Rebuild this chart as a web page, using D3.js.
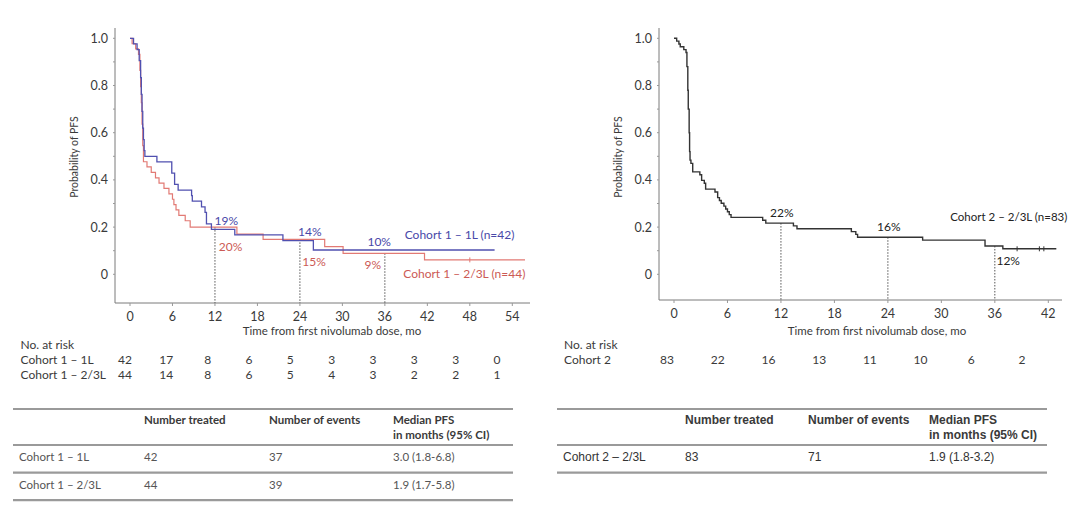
<!DOCTYPE html>
<html>
<head>
<meta charset="utf-8">
<script src="https://cdn.jsdelivr.net/npm/d3@7"></script>
<style>
  body { margin: 0; background: #fff; }
  svg text { font-family: Lato, "Open Sans", sans-serif; fill: #3a3a3a; }
  .arial text, text.arial { font-family: "Liberation Sans", Arial, sans-serif; }
</style>
</head>
<body>
<svg id="chart" width="1092" height="520"></svg>
<script>
// ---- data ----
// step curves: [month, survival from that month on]
let blueSteps = [[0,1],[0.5,0.976],[1.0,0.952],[1.3,0.905],[1.5,0.833],[1.6,0.762],[1.7,0.69],[1.8,0.619],
  [1.9,0.571],[2.0,0.524],[2.1,0.5],[3.8,0.476],[5.9,0.429],[6.3,0.381],[6.8,0.357],[8.7,0.333],[8.8,0.31],
  [10.1,0.286],[10.6,0.262],[10.8,0.214],[11.5,0.19],[14.8,0.167],[21.6,0.143],[25.9,0.103]]
let blueEnd = 51.5
let redSteps = [[0,1],[0.3,0.977],[0.8,0.955],[1.2,0.932],[1.4,0.864],[1.5,0.795],[1.6,0.727],[1.7,0.636],
  [1.8,0.545],[1.9,0.477],[2.4,0.455],[3.0,0.432],[3.6,0.409],[4.1,0.386],[4.8,0.364],[5.5,0.341],[6.0,0.318],
  [6.2,0.295],[6.5,0.273],[6.9,0.25],[7.8,0.227],[8.5,0.2],[15.1,0.17],[18.8,0.148],[27.5,0.117],[30.1,0.089],[41.6,0.061]]
let redEnd = 55.8
let redCensor = [48]
let blackSteps = [[0,1],[0.3,0.988],[0.55,0.976],[0.7,0.964],[1.1,0.952],[1.35,0.94],[1.45,0.88],[1.55,0.78],
  [1.6,0.7],[1.7,0.6],[1.75,0.52],[1.8,0.484],[1.9,0.47],[2.1,0.434],[2.9,0.422],[3.1,0.398],[3.4,0.386],
  [3.55,0.361],[4.6,0.349],[4.9,0.325],[5.1,0.313],[5.3,0.301],[5.6,0.289],[5.8,0.277],[6.0,0.265],[6.2,0.253],
  [6.4,0.241],[9.95,0.229],[10.3,0.217],[13.4,0.205],[13.8,0.193],[19.9,0.181],[20.4,0.169],[20.6,0.157],
  [27.9,0.145],[34.9,0.12],[36.9,0.108]]
let blackEnd = 42.9
let blackCensor = [38.5, 41, 41.5]

let leftTicks = [0,6,12,18,24,30,36,42,48,54]
let rightTicks = [0,6,12,18,24,30,36,42]
let yTicks = [0,0.2,0.4,0.6,0.8,1.0]
let landmarks = [12,24,36]

let leftRiskRows = ["Cohort 1 \u2013 1L", "Cohort 1 \u2013 2/3L"]
let leftRisk1L = [42,17,8,6,5,3,3,3,3,0]
let leftRisk23L = [44,14,8,6,5,4,3,2,2,1]
let rightRiskRows = ["Cohort 2"]
let rightRisk = [83,22,16,13,11,10,6,2]

let tableHeads = ["Number treated", "Number of events", "Median PFS", "in months (95% CI)"]
let leftTableRows = [["Cohort 1 \u2013 1L","42","37","3.0 (1.8-6.8)"],["Cohort 1 \u2013 2/3L","44","39","1.9 (1.7-5.8)"]]
let rightTableRows = [["Cohort 2 \u2013 2/3L","83","71","1.9 (1.8-3.2)"]]

let blue = "#5050b0", red = "#e27a74", black = "#333"
let blueText = "#4848a8", redText = "#cc5a55"

const svg = d3.select("#chart")
svg.append("rect").attr("width",1092).attr("height",520).attr("fill","#fff")

function panel(o) {
  let x = d3.scaleLinear().domain([0, o.xMaxTick]).range([o.x0, o.x1])
  let y = d3.scaleLinear().domain([0, 1]).range([274.3, 38.3])
  let g = svg.append("g")

  // axes
  g.append("line").attr("x1", o.axX).attr("x2", o.axX).attr("y1", 28).attr("y2", o.axY)
    .attr("stroke", "#7a7a7a").attr("stroke-width", 1)
  g.append("line").attr("x1", o.axX).attr("x2", o.axRight).attr("y1", o.axY).attr("y2", o.axY)
    .attr("stroke", "#7a7a7a").attr("stroke-width", 1)
  g.selectAll(".ytk").data(d3.range(0, 1.01, 0.1)).enter().append("line")
    .attr("x1", o.axX - 2).attr("x2", o.axX).attr("y1", d => y(d)).attr("y2", d => y(d))
    .attr("stroke", "#999")
  g.selectAll(".ylab").data(yTicks).enter().append("text")
    .attr("x", o.axX - 7).attr("y", d => y(d) + 4.5).attr("text-anchor", "end")
    .style("font-size", "12.5px").text(d => d === 0 ? "0" : d.toFixed(1))
  g.selectAll(".xtk").data(o.ticks).enter().append("line")
    .attr("x1", d => x(d)).attr("x2", d => x(d)).attr("y1", o.axY).attr("y2", o.axY + 3)
    .attr("stroke", "#999")
  g.selectAll(".xlab").data(o.ticks).enter().append("text")
    .attr("x", d => x(d)).attr("y", o.axY + 18).attr("text-anchor", "middle")
    .style("font-size", "12.5px").text(d => d)
  g.append("text").attr("x", o.titleX).attr("y", 334.5).attr("text-anchor", "middle")
    .style("font-size", "11.5px").text("Time from first nivolumab dose, mo")
  g.append("text").attr("transform", "translate(" + (o.axX - 37) + ",157) rotate(-90)")
    .attr("text-anchor", "middle").style("font-size", "10.5px").text("Probability of PFS")

  // landmark dotted lines
  o.curves.forEach(c => {
    if (!c.drops) return
    landmarks.forEach(m => {
      let s = survAt(c.steps, m)
      g.append("line").attr("x1", x(m)).attr("x2", x(m)).attr("y1", y(s)).attr("y2", o.axY)
        .attr("stroke", "#555").attr("stroke-width", 1).attr("stroke-dasharray", "1.5,1.5")
    })
  })

  // curves
  let line = d3.line().x(d => x(d[0])).y(d => y(d[1])).curve(d3.curveStepAfter)
  o.curves.forEach(c => {
    let pts = c.steps.concat([[c.end, c.steps[c.steps.length - 1][1]]])
    g.append("path").attr("d", line(pts)).attr("fill", "none")
      .attr("stroke", c.color).attr("stroke-width", c.width || 1.2)
    ;(c.censor || []).forEach(t => {
      let s = survAt(c.steps, t)
      g.append("line").attr("x1", x(t)).attr("x2", x(t)).attr("y1", y(s) - 2.5).attr("y2", y(s) + 2.5)
        .attr("stroke", c.color).attr("stroke-width", 1)
    })
  })

  // labels
  o.labels.forEach(l => {
    g.append("text").attr("x", x(l.m) + (l.dx || 0)).attr("y", y(l.v) + 4.5)
      .attr("text-anchor", l.anchor || "middle").style("font-size", (l.size || 12) + "px")
      .style("fill", l.color).text(l.text)
  })
}

function survAt(steps, t) {
  let s = 1
  steps.forEach(d => { if (d[0] <= t) s = d[1] })
  return s
}

panel({
  x0: 130, x1: 512.3, xMaxTick: 54, axX: 115, axY: 303, axRight: 530, titleX: 332,
  ticks: leftTicks,
  curves: [
    { steps: redSteps, end: redEnd, color: red, censor: redCensor, drops: true },
    { steps: blueSteps, end: blueEnd, color: blue, width: 1.3 }
  ],
  labels: [
    { m: 13.6, v: 0.228, text: "19%", color: blueText },
    { m: 14.2, v: 0.117, text: "20%", color: redText },
    { m: 25.4, v: 0.18, text: "14%", color: blueText },
    { m: 26.0, v: 0.053, text: "15%", color: redText },
    { m: 35.2, v: 0.138, text: "10%", color: blueText },
    { m: 34.3, v: 0.04, text: "9%", color: redText },
    { m: 38.8, v: 0.17, text: "Cohort 1 \u2013 1L (n=42)", color: blueText, anchor: "start" },
    { m: 38.6, v: 0.003, text: "Cohort 1 \u2013 2/3L (n=44)", color: redText, anchor: "start" }
  ]
})

panel({
  x0: 674, x1: 1048.3, xMaxTick: 42, axX: 659, axY: 300, axRight: 1062, titleX: 877,
  ticks: rightTicks,
  curves: [
    { steps: blackSteps, end: blackEnd, color: black, censor: blackCensor, drops: true, width: 1.4 }
  ],
  labels: [
    { m: 12.1, v: 0.262, text: "22%", color: "#222" },
    { m: 24.1, v: 0.203, text: "16%", color: "#222" },
    { m: 37.5, v: 0.058, text: "12%", color: "#222" },
    { m: 31.0, v: 0.245, text: "Cohort 2 \u2013 2/3L (n=83)", color: "#222", anchor: "start", size: 11.5 }
  ]
})

// ---- numbers at risk ----
function riskTable(o) {
  let xs = d3.scalePoint().domain(d3.range(o.rows[0].length)).range(o.range)
  let g = svg.append("g")
  g.append("text").attr("x", o.labelX).attr("y", 349).style("font-size", "12px").text("No. at risk")
  o.rows.forEach((r, i) => {
    g.append("text").attr("x", o.labelX).attr("y", 364 + i * 15).style("font-size", "12px").text(o.names[i])
    g.selectAll(null).data(r).enter().append("text")
      .attr("x", (d, j) => xs(j)).attr("y", 364 + i * 15).attr("text-anchor", "middle")
      .style("font-size", "12px").text(d => d)
  })
}
riskTable({ labelX: 20.5, range: [125, 497], rows: [leftRisk1L, leftRisk23L], names: leftRiskRows })
riskTable({ labelX: 564, range: [667, 1022], rows: [rightRisk], names: rightRiskRows })

// ---- summary tables ----
function summary(o) {
  let g = svg.append("g").attr("class", o.cls || "")
  let rules = [409, 445].concat(o.rows.map((r, i) => 472.7 + i * 27.5))
  rules.forEach(yy => g.append("line").attr("x1", o.xL).attr("x2", o.xR).attr("y1", yy).attr("y2", yy)
    .attr("stroke", "#9a9a9a").attr("stroke-width", 2.2))
  g.append("text").attr("x", o.cols[1]).attr("y", 424).style("font-size", o.fs).style("font-weight", "bold").text(tableHeads[0])
  g.append("text").attr("x", o.cols[2]).attr("y", 424).style("font-size", o.fs).style("font-weight", "bold").text(tableHeads[1])
  g.append("text").attr("x", o.cols[3]).attr("y", 424).style("font-size", o.fs).style("font-weight", "bold").text(tableHeads[2])
  g.append("text").attr("x", o.cols[3]).attr("y", 439).style("font-size", o.fs).style("font-weight", "bold").text(tableHeads[3])
  o.rows.forEach((r, i) => {
    r.forEach((c, j) => g.append("text").attr("x", o.cols[j]).attr("y", 461 + i * 27.5)
      .style("font-size", o.fs).style("fill", o.rowFill).text(c))
  })
}
summary({ xL: 13, xR: 513, cols: [19, 144, 269, 393], rows: leftTableRows, fs: "11.5px", rowFill: "#555" })
summary({ xL: 557, xR: 1047, cols: [563, 685, 808, 929], rows: rightTableRows, fs: "12px", cls: "arial", rowFill: "#333" })
</script>
</body>
</html>
